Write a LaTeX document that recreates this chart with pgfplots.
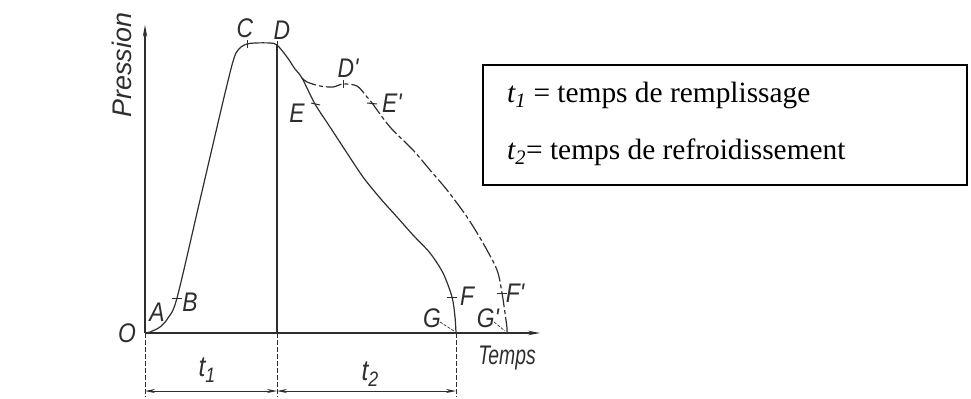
\documentclass[border=0pt]{standalone}
\usepackage{fontspec}
\usepackage{pgfplots}
\pgfplotsset{compat=1.18}
\usetikzlibrary{arrows.meta}
\setmainfont{Liberation Serif}
\newfontfamily\tech[FakeStretch=0.85]{Liberation Sans}
\newfontfamily\technarrow[FakeStretch=0.72]{Liberation Sans}
\newfontfamily\techwide{Liberation Sans}
\definecolor{ink}{HTML}{2E2E2E}
\tikzset{lbl/.style={font=\tech\itshape\fontsize{27}{30}\selectfont, text=ink, inner sep=0pt}}
\begin{document}
\begin{tikzpicture}
\begin{axis}[
  x=1bp, y=1bp,
  xmin=-145, xmax=826, ymin=-65, ymax=333,
  hide axis, clip=false,
  every axis plot/.append style={line width=1.2bp, draw=ink},
]
% bounding box
\path (axis cs:-145,-65) rectangle (axis cs:826,333);
% axes
\draw[line width=1.1bp, ink, -{Stealth[length=12bp,width=4.5bp]}] (axis cs:0,0) -- (axis cs:0,308);
\draw[line width=1.1bp, ink, -{Stealth[length=12bp,width=4.5bp]}] (axis cs:0,0) -- (axis cs:395,0);
% main curve (solid)
\addplot[smooth, tension=0.5] coordinates {
(0,0) (5,1) (15,6) (23,15) (32,35) (55,133) (76,223) (82,248) (87,268) (91,280) (96,286) (102,289) (110,290) (125,290) (132,288)
(142,276) (150,264) (157,255) (170,229) (185,206) (202,180) (218,156) (235,135) (252,116) (268,98) (285,80) (298,60) (307,36) (310,16) (311,0)
};
% alternative branch (dash-dot)
\addplot[smooth, tension=0.5, dash pattern=on 16bp off 3bp on 4bp off 3bp] coordinates {
(157,255) (162,251) (175,247) (188,246) (198,249) (212,247) (222,236) (227,230) (245,206) (268,183) (285,163) (302,143) (322,116) (338,90) (352,63) (357,40) (360,20) (362,5) (362,0)
};
% D vertical line
\addplot[line width=1.1bp] coordinates {(132,288) (132,0)};
% extension lines below axis
\addplot[line width=0.8bp, dash pattern=on 5bp off 2bp] coordinates {(0,0) (0,-64)};
\addplot[line width=0.8bp, dash pattern=on 5bp off 2bp] coordinates {(132,0) (132,-64)};
\addplot[line width=0.8bp, dash pattern=on 5bp off 2bp] coordinates {(311,0) (311,-64)};
% dimension arrows
\addplot[line width=0.9bp, {Stealth[length=10bp,width=4bp]}-{Stealth[length=10bp,width=4bp]}] coordinates {(0,-58) (132,-58)};
\addplot[line width=0.9bp, {Stealth[length=10bp,width=4bp]}-{Stealth[length=10bp,width=4bp]}] coordinates {(132,-58) (311,-58)};
% point ticks
\addplot[line width=1bp] coordinates {(27,35) (37,35)};
\addplot[line width=1bp] coordinates {(102,285) (102,293)};
\addplot[line width=1bp] coordinates {(132,284) (132,292)};
\addplot[line width=1bp] coordinates {(198,245) (198,253)};
\addplot[line width=1bp] coordinates {(166,230) (175,228)};
\addplot[line width=1bp] coordinates {(222,230) (232,229)};
\addplot[line width=1bp] coordinates {(302,36) (312,36)};
\addplot[line width=1bp] coordinates {(352,40) (362,40)};
% G leaders
\addplot[line width=0.7bp, dash pattern=on 3bp off 1.5bp] coordinates {(295,11) (309,2)};
\addplot[line width=0.7bp, dash pattern=on 3bp off 1.5bp] coordinates {(349,11) (360,2)};
% labels
\node[lbl] at (axis cs:12,21) {A};
\node[lbl] at (axis cs:45,31) {B};
\node[lbl] at (axis cs:100,305) {C};
\node[lbl] at (axis cs:137,303) {D};
\node[lbl] at (axis cs:203,265) {D'};
\node[lbl] at (axis cs:152,220) {E};
\node[lbl] at (axis cs:247,230) {E'};
\node[lbl] at (axis cs:322,37) {F};
\node[lbl] at (axis cs:370,40) {F'};
\node[lbl] at (axis cs:287,15) {G};
\node[lbl] at (axis cs:343,15) {G'};
\node[lbl] at (axis cs:-18,0) {O};
\node[lbl, rotate=90, font=\techwide\itshape\fontsize{27}{30}\selectfont] at (axis cs:-23,268) {Pression};
\node[lbl, font=\technarrow\itshape\fontsize{27}{30}\selectfont] at (axis cs:362,-25) {Temps};
\node[lbl, font=\tech\itshape\fontsize{29}{32}\selectfont] at (axis cs:62,-37) {t\raisebox{-0.35ex}{\fontsize{21}{22}\selectfont 1}};
\node[lbl, font=\tech\itshape\fontsize{29}{32}\selectfont] at (axis cs:225,-41) {t\raisebox{-0.35ex}{\fontsize{21}{22}\selectfont 2}};
% text box
\draw[line width=1.5bp, black] (axis cs:338,268) rectangle (axis cs:822,148);
\node[anchor=base west, inner sep=0pt, font=\fontsize{29.5}{32}\selectfont] at (axis cs:362,231) {\textit{t\textsubscript{1}} = temps de remplissage};
\node[anchor=base west, inner sep=0pt, font=\fontsize{29.5}{32}\selectfont] at (axis cs:362,174) {\textit{t\textsubscript{2}}= temps de refroidissement};
\end{axis}
\end{tikzpicture}
\end{document}
